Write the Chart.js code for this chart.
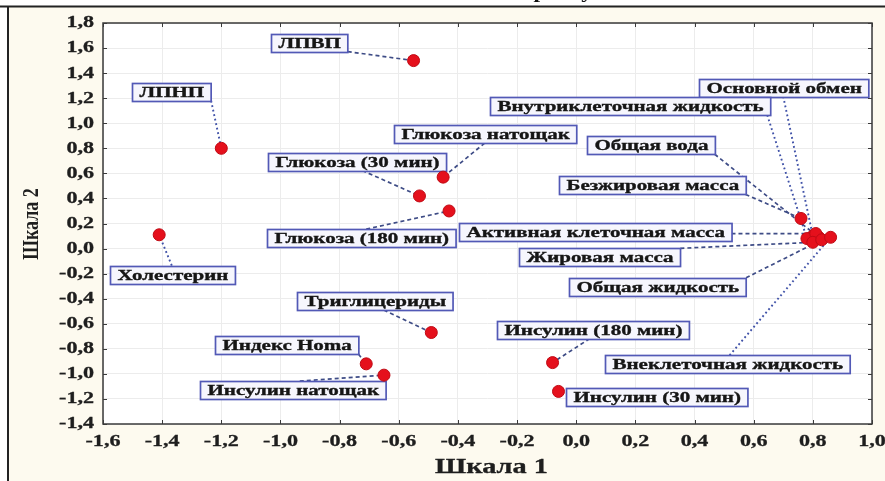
<!DOCTYPE html>
<html>
<head>
<meta charset="utf-8">
<script src="https://cdn.jsdelivr.net/npm/chart.js@4.4.1/dist/chart.umd.min.js"></script>
<style>
  html, body { margin: 0; padding: 0; background: #fff; }
  #wrap { width: 885px; height: 481px; }
</style>
</head>
<body>
<div id="wrap"><canvas id="mds" width="885" height="481"></canvas></div>
<script>
// variables (MDS configuration)
const names = [
  'ЛПВП', 'ЛПНП', 'Холестерин', 'Глюкоза натощак', 'Глюкоза (30 мин)', 'Глюкоза (180 мин)',
  'Триглицериды', 'Индекс Homa', 'Инсулин натощак', 'Инсулин (180 мин)', 'Инсулин (30 мин)',
  'Основной обмен', 'Внутриклеточная жидкость', 'Общая вода', 'Безжировая масса',
  'Активная клеточная масса', 'Жировая масса', 'Общая жидкость', 'Внеклеточная жидкость'
];
const scale1 = [-0.55, -1.20, -1.41, -0.45, -0.53, -0.43, -0.49, -0.71, -0.65, -0.08, -0.06,
  0.80, 0.78, 0.82, 0.76, 0.81, 0.80, 0.83, 0.86];
const scale2 = [1.50, 0.80, 0.11, 0.57, 0.42, 0.30, -0.67, -0.92, -1.01, -0.91, -1.14,
  0.10, 0.08, 0.09, 0.24, 0.12, 0.05, 0.07, 0.09];

const xTickValues = [-1.6, -1.4, -1.2, -1.0, -0.8, -0.6, -0.4, -0.2, 0.0, 0.2, 0.4, 0.6, 0.8, 1.0];
const yTickValues = [-1.4, -1.2, -1.0, -0.8, -0.6, -0.4, -0.2, 0.0, 0.2, 0.4, 0.6, 0.8, 1.0, 1.2, 1.4, 1.6, 1.8];
const xTitle = 'Шкала 1';
const yTitle = 'Шкала 2';

// label box placement: offset of box centre from the point (px), leader attach point relative to box centre
const labelLayout = {
  'ЛПВП': { dx: -104, dy: -18 },
  'ЛПНП': { dx: -49.5, dy: -56.5, dotted: true },
  'Холестерин': { dx: 13.6, dy: 39.8, attach: [-1, -9], dotted: true },
  'Глюкоза натощак': { dx: 41.6, dy: -43.1, attach: [0, 9] },
  'Глюкоза (30 мин)': { dx: -62.2, dy: -34.4, attach: [5, 9] },
  'Глюкоза (180 мин)': { dx: -87.8, dy: 27.1, attach: [5, -9] },
  'Триглицериды': { dx: -56.6, dy: -31.5, attach: [9, 9] },
  'Индекс Homa': { dx: -79.5, dy: -18.8 },
  'Инсулин натощак': { dx: -91.2, dy: 14.9, attach: [7, -9] },
  'Инсулин (180 мин)': { dx: 40.2, dy: -33, attach: [-3, 9] },
  'Инсулин (30 мин)': { dx: 98.7, dy: 5.7, noLine: true },
  'Основной обмен': { dx: -29.6, dy: -148.5, attach: [0, 9], dotted: true },
  'Внутриклеточная жидкость': { dx: -176.7, dy: -132.5, attach: [137, 9], dotted: true },
  'Общая вода': { dx: -168, dy: -92 },
  'Безжировая масса': { dx: -148.8, dy: -33 },
  'Активная клеточная масса': { dx: -220.6, dy: -2 },
  'Жировая масса': { dx: -213, dy: 15 },
  'Общая жидкость': { dx: -164, dy: 47 },
  'Внеклеточная жидкость': { dx: -103, dy: 127, attach: [2, -9], dotted: true }
};

const SERIF = '"Liberation Serif", "Times New Roman", serif';

function stretchedText(ctx, str, x, y, font, sx, align, baseline, heavy) {
  ctx.save();
  ctx.font = font;
  ctx.textAlign = align || 'center';
  ctx.textBaseline = baseline || 'middle';
  ctx.translate(x, y);
  ctx.scale(sx, 1);
  ctx.fillText(str, 0, 0);
  if (heavy) {
    ctx.strokeStyle = ctx.fillStyle;
    ctx.lineWidth = heavy;
    ctx.strokeText(str, 0, 0);
  }
  ctx.restore();
}

function fmt(v) {
  return v.toFixed(1).replace('.', ',');
}

const framePlugin = {
  id: 'frame',
  beforeDraw(chart) {
    const { ctx, chartArea: a } = chart;
    ctx.save();
    ctx.fillStyle = '#ffffff';
    ctx.fillRect(0, 0, chart.width, chart.height);
    ctx.fillStyle = '#fdfaef';
    ctx.fillRect(8, 7, chart.width - 8, chart.height - 7);
    ctx.fillStyle = '#ffffff';
    ctx.fillRect(a.left, a.top, a.right - a.left, a.bottom - a.top);
    ctx.strokeStyle = '#222';
    ctx.lineWidth = 2;
    ctx.beginPath();
    ctx.moveTo(0, 6.5); ctx.lineTo(chart.width, 6.5);
    ctx.moveTo(8, 6.5); ctx.lineTo(8, chart.height);
    ctx.stroke();
    // descenders of the page caption cut off above the frame
    ctx.fillStyle = '#111';
    stretchedText(ctx, 'р', 540, -2, 'bold 18px ' + SERIF, 1.3, 'center', 'alphabetic');
    stretchedText(ctx, 'у', 587, -2, 'bold 18px ' + SERIF, 1.3, 'center', 'alphabetic');
    ctx.restore();
  },
  beforeDatasetsDraw(chart) {
    const { ctx } = chart;
    const meta = chart.getDatasetMeta(0);
    const font = 'bold 15px ' + SERIF;
    const sx = 1.4;
    ctx.save();
    ctx.font = font;
    const boxes = names.map((name, i) => {
      const el = meta.data[i];
      const lay = labelLayout[name];
      const w = ctx.measureText(name).width * sx + 14;
      const h = 18;
      const cx = el.x + lay.dx, cy = el.y + lay.dy;
      return { name, px: el.x, py: el.y, cx, cy, w, h, lay };
    });
    // leader lines
    boxes.forEach(b => {
      if (b.lay.noLine) return;
      let ax, ay;
      if (b.lay.attach) {
        ax = b.cx + b.lay.attach[0];
        ay = b.cy + b.lay.attach[1];
      } else {
        ax = Math.min(Math.max(b.px, b.cx - b.w / 2), b.cx + b.w / 2);
        ay = Math.min(Math.max(b.py, b.cy - b.h / 2), b.cy + b.h / 2);
      }
      ctx.strokeStyle = b.lay.dotted ? '#4052a8' : '#3e4c86';
      ctx.lineWidth = b.lay.dotted ? 1.9 : 1.7;
      ctx.setLineDash(b.lay.dotted ? [1.8, 2.8] : [4, 3]);
      ctx.beginPath();
      ctx.moveTo(ax, ay);
      ctx.lineTo(b.px, b.py);
      ctx.stroke();
    });
    ctx.setLineDash([]);
    // label boxes
    boxes.forEach(b => {
      const x0 = Math.round(b.cx - b.w / 2) + 0.5, y0 = Math.round(b.cy - b.h / 2) + 0.5;
      ctx.fillStyle = '#f6f6fd';
      ctx.fillRect(x0, y0, b.w, b.h);
      ctx.strokeStyle = '#5259b6';
      ctx.lineWidth = 1.7;
      ctx.strokeRect(x0, y0, b.w, b.h);
      ctx.fillStyle = '#161616';
      stretchedText(ctx, b.name, x0 + b.w / 2, y0 + b.h / 2 + 1, font, sx, 'center', 'middle', 0.35);
    });
    ctx.restore();
  },
  afterDraw(chart) {
    const { ctx, chartArea: a } = chart;
    const xs = chart.scales.x, ys = chart.scales.y;
    ctx.save();
    ctx.strokeStyle = '#3a3a3a';
    ctx.lineWidth = 1.5;
    ctx.strokeRect(a.left, a.top, a.right - a.left, a.bottom - a.top);
    ctx.lineWidth = 1;
    ctx.beginPath();
    xs.ticks.forEach(t => {
      const x = Math.round(xs.getPixelForValue(t.value)) + 0.5;
      ctx.moveTo(x, a.top); ctx.lineTo(x, a.top + 4);
      ctx.moveTo(x, a.bottom); ctx.lineTo(x, a.bottom - 4);
    });
    ys.ticks.forEach(t => {
      const y = Math.round(ys.getPixelForValue(t.value)) + 0.5;
      ctx.moveTo(a.left, y); ctx.lineTo(a.left + 4, y);
      ctx.moveTo(a.right, y); ctx.lineTo(a.right - 4, y);
    });
    ctx.stroke();

    ctx.fillStyle = '#1e1e1e';
    const tickFont = 'bold 17px ' + SERIF;
    xs.ticks.forEach(t => {
      stretchedText(ctx, fmt(t.value), xs.getPixelForValue(t.value), a.bottom + 18, tickFont, 1.3, 'center', 'middle', 0.3);
    });
    ys.ticks.forEach(t => {
      stretchedText(ctx, fmt(t.value), a.left - 9, ys.getPixelForValue(t.value), tickFont, 1.3, 'right', 'middle', 0.3);
    });

    // axis titles
    stretchedText(ctx, xTitle, (a.left + a.right) / 2 + 4, a.bottom + 44, 'bold 21px ' + SERIF, 1.35, 'center', 'middle', 0.3);
    ctx.save();
    ctx.translate(32, 224);
    ctx.rotate(-Math.PI / 2);
    ctx.scale(1, 1.3);
    ctx.font = 'bold 18px ' + SERIF;
    ctx.textAlign = 'center';
    ctx.textBaseline = 'middle';
    ctx.fillText(yTitle, 0, 0);
    ctx.restore();
    ctx.restore();
  }
};

const ctx = document.getElementById('mds').getContext('2d');
const mdsChart = new Chart(ctx, {
  type: 'scatter',
  data: {
    datasets: [{
      label: 'Переменные',
      data: names.map((n, i) => ({ x: scale1[i], y: scale2[i] })),
      backgroundColor: '#e5101c',
      borderColor: '#c00a14',
      borderWidth: 1,
      pointRadius: 6,
      pointHoverRadius: 6
    }]
  },
  options: {
    responsive: false,
    animation: false,
    events: [],
    layout: { padding: { left: 103, top: 23, right: 13, bottom: 57 } },
    plugins: {
      legend: { display: false },
      tooltip: { enabled: false }
    },
    scales: {
      x: {
        type: 'linear',
        min: xTickValues[0],
        max: xTickValues[xTickValues.length - 1],
        afterBuildTicks: s => { s.ticks = xTickValues.map(v => ({ value: v })); },
        ticks: { display: false },
        grid: { color: '#ececec', lineWidth: 1, drawTicks: false },
        border: { display: false }
      },
      y: {
        type: 'linear',
        min: yTickValues[0],
        max: yTickValues[yTickValues.length - 1],
        afterBuildTicks: s => { s.ticks = yTickValues.map(v => ({ value: v })); },
        ticks: { display: false },
        grid: { color: '#ececec', lineWidth: 1, drawTicks: false },
        border: { display: false }
      }
    }
  },
  plugins: [framePlugin]
});
</script>
</body>
</html>
